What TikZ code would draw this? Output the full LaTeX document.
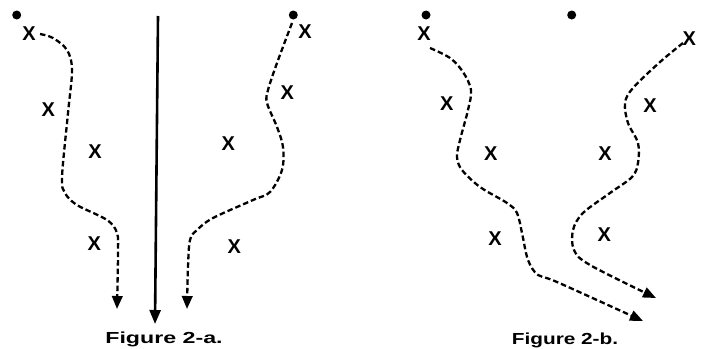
\documentclass[tikz,border=0pt]{standalone}
\usepackage{fontspec}
\setmainfont{Liberation Sans}
\usetikzlibrary{arrows.meta}
\begin{document}
\begin{tikzpicture}[x=1pt,y=-1pt,
  mark x/.style={inner sep=0pt, font=\bfseries\fontsize{20}{20}\selectfont},
  dotpt/.style={circle, fill=black, inner sep=0pt, minimum size=9pt},
  dashpath/.style={line width=2.3pt, dash pattern=on 5.5pt off 3pt, -{Triangle[length=13pt,width=10.5pt]}},
  solidpath/.style={line width=2.6pt, -{Triangle[length=14pt,width=11pt]}},
  caption/.style={inner sep=0pt, anchor=base, font=\bfseries\fontsize{16}{16}\selectfont}]
\useasboundingbox (0,0) rectangle (701,348);
% Figure 2-a
\node[dotpt] (d1) at (16.7,15) {};
\node[dotpt] (d2) at (293.3,15) {};
\node[mark x] (x1) at (29,33.3) {X};
\node[mark x] (x2) at (48.3,110) {X};
\node[mark x] (x3) at (95,151.7) {X};
\node[mark x] (x4) at (94.3,244) {X};
\node[mark x] (x5) at (305,31.7) {X};
\node[mark x] (x6) at (287.3,92.3) {X};
\node[mark x] (x7) at (228.3,143.3) {X};
\node[mark x] (x8) at (234.3,246.7) {X};
\coordinate (a1s) at (40,34);
\coordinate (a1e) at (117,309);
\coordinate (a2s) at (292,23);
\coordinate (a2e) at (187,309);
\coordinate (cs) at (158,16);
\coordinate (ce) at (155,324);
\draw[dashpath] plot[smooth, tension=0.55] coordinates {(a1s) (53,38) (67,50) (72,70) (68,113) (62,177) (65,193) (77,205) (107,220) (117,233) (118,253) (a1e)};
\draw[dashpath] plot[smooth, tension=0.55] coordinates {(a2s) (277,63) (268,90) (267,103) (277,127) (283,147) (282,170) (270,192) (253,200) (213,218) (197,230) (190,240) (188,267) (a2e)};
\draw[solidpath] (cs) -- (ce);
\node[caption] (ca) at (164,343.3) {\scalebox{1.45}[1]{Figure 2-a.}};
% Figure 2-b
\node[dotpt] (d3) at (426,15) {};
\node[dotpt] (d4) at (571.7,15) {};
\node[mark x] (y1) at (424,33.3) {X};
\node[mark x] (y2) at (446.7,103.3) {X};
\node[mark x] (y3) at (490.7,153.3) {X};
\node[mark x] (y4) at (495,238.3) {X};
\node[mark x] (y5) at (689.3,38.3) {X};
\node[mark x] (y6) at (650,105.7) {X};
\node[mark x] (y7) at (605,153.3) {X};
\node[mark x] (y8) at (604.3,235) {X};
\coordinate (b1s) at (430,48);
\coordinate (b1e) at (643,321);
\coordinate (b2s) at (683,43);
\coordinate (b2e) at (656,298);
\draw[dashpath] plot[smooth, tension=0.55] coordinates {(b1s) (450,58) (463,72) (471,90) (468,110) (460,140) (457,157) (462,170) (480,187) (507,203) (517,213) (522,233) (528,260) (538,275) (557,282) (b1e)};
\draw[dashpath] plot[smooth, tension=0.55] coordinates {(b2s) (660,62) (633,88) (625,103) (628,123) (638,143) (638,163) (632,177) (610,193) (583,213) (573,230) (574,250) (590,265) (b2e)};
\node[caption] (cb) at (565,344.5) {\scalebox{1.3}[1]{Figure 2-b.}};
\end{tikzpicture}
\end{document}
